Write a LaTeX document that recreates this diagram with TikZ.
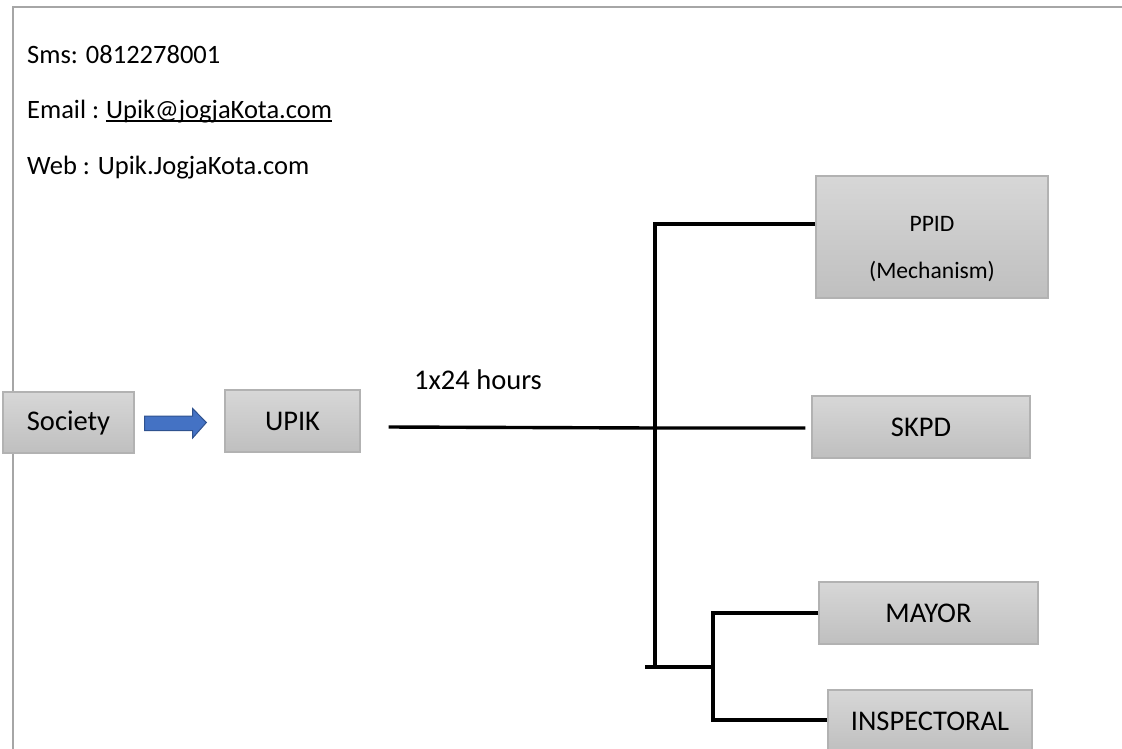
\documentclass[tikz,border=0pt]{standalone}
\usepackage{fontspec}
\setmainfont{Carlito}
\usetikzlibrary{calc}
\definecolor{frameg}{RGB}{166,166,166}
\definecolor{boxtop}{RGB}{215,215,215}
\definecolor{boxbot}{RGB}{191,191,191}
\definecolor{boxline}{RGB}{178,178,178}
\definecolor{arrfill}{RGB}{68,114,196}
\definecolor{arrline}{RGB}{47,82,143}
\begin{document}
\begin{tikzpicture}[x=1pt,y=-1pt,
  graybox/.style={draw=boxline,line width=1.3pt,top color=boxtop,bottom color=boxbot,
    inner sep=0pt,font=\fontsize{28.5}{34}\selectfont,align=center},
  infotext/.style={anchor=base west,inner sep=0pt,font=\fontsize{26.5}{32}\selectfont},
  conn/.style={line width=3.4pt,black}]
\useasboundingbox (0,0) rectangle (1122,748);
\clip (0,0) rectangle (1122,748);
% frame
\draw[frameg,line width=2pt] (13,750) -- (13,7) -- (1124,7);
% info texts
\node[infotext] (sms) at (27,63) {Sms: 0812278001};
\node[infotext] (emaillbl) at (27,118) {Email :};
\node[infotext] (email) at ([xshift=6.5pt]emaillbl.base east) {Upik@jogjaKota.com};
\draw[black,line width=1.4pt] ([yshift=-3pt]email.base west) -- ([yshift=-3pt]email.base east);
\node[infotext] (web) at (27,174) {Web : Upik.JogjaKota.com};
% boxes
\node[graybox,minimum width=131pt,minimum height=61pt] (soc) at (68.5,422.5) {Society};
\node[graybox,minimum width=135pt,minimum height=62pt] (upik) at (292.5,421) {UPIK};
\node[graybox,minimum width=232pt,minimum height=122pt,
  label={[inner sep=0pt,yshift=-12pt,align=center,font=\fontsize{23.6}{47}\selectfont]center:{PPID\\(Mechanism)}}] (ppid) at (932,237) {};
\node[graybox,minimum width=218pt,minimum height=62pt] (skpd) at (921,427) {SKPD};
\node[graybox,minimum width=219pt,minimum height=62pt] (mayor) at (928.5,613) {MAYOR};
\node[graybox,minimum width=204pt,minimum height=62pt] (insp) at (930,721) {INSPECTORAL};
% block arrow Society -> UPIK
\draw[arrline,fill=arrfill,line width=1pt]
  ($(soc.east)+(10,-6.5)$) -- ($(soc.east)+(58,-6.5)$) -- ($(soc.east)+(58,-14)$)
  -- ($(upik.west)+(-18,1.5)$) -- ($(soc.east)+(58,15.5)$) -- ($(soc.east)+(58,8)$)
  -- ($(soc.east)+(10,8)$) -- cycle;
% label
\node[anchor=base west,inner sep=0pt,font=\fontsize{28.5}{34}\selectfont] (hours) at (414,389) {1x24 hours};
% connectors
\coordinate (start) at ($(upik.east)+(28,6)$);
\coordinate (vtop) at (655,224);
\coordinate (vmid) at (655,428);
\coordinate (vbot) at (655,668);
\coordinate (tickl) at (645,667);
\coordinate (v2mid) at (713,667);
\coordinate (v2top) at (713,613);
\coordinate (v2bot) at (713,720);
\draw[conn] (start) -- (vmid) -- ($(skpd.west)+(-6,1)$);
\draw[conn] (ppid.west |- vtop) -- (vtop) -- (vbot);
\draw[conn] (tickl) -- (v2mid);
\draw[conn] (mayor.west) -- (v2top) -- (v2bot) -- (insp.west |- v2bot);
\end{tikzpicture}
\end{document}
